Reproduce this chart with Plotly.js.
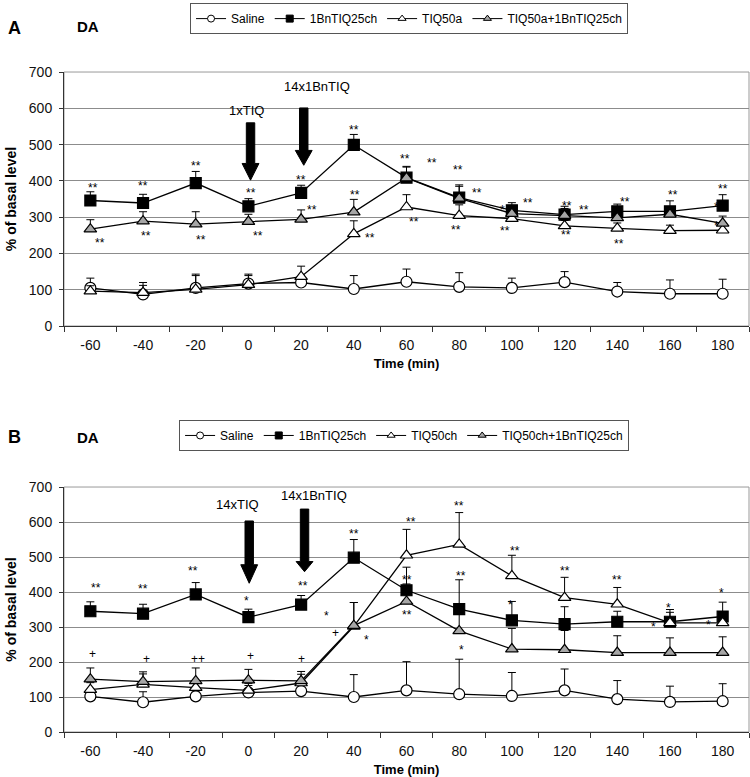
<!DOCTYPE html>
<html>
<head>
<meta charset="utf-8">
<script src="https://cdn.plot.ly/plotly-3.0.1.min.js"></script>
<style>html,body{margin:0;padding:0;background:#fff;}#chart{width:750px;height:777px;}</style>
</head>
<body>
<div id="chart"></div>
<script>
// ---------- data ----------
const times = [-60, -40, -20, 0, 20, 40, 60, 80, 100, 120, 140, 160, 180];
const tickText = ["-60", "-40", "-20", "0", "20", "40", "60", "80", "100", "120", "140", "160", "180"];

// Panel A
const namesA = ["Saline", "1BnTIQ25ch", "TIQ50a", "TIQ50a+1BnTIQ25ch"];
const salineA = [105, 87, 105, 117, 120, 102, 122, 108, 105, 121, 95, 89, 89];
const salineAErr = [27, 33, 38, 26, 10, 37, 35, 39, 27, 29, 25, 38, 40];
const bnA = [346, 339, 394, 330, 367, 499, 409, 354, 319, 307, 316, 316, 332];
const bnAErr = [24, 24, 32, 21, 21, 29, 31, 35, 21, 23, 20, 29, 30];
const tiqA = [96, 92, 101, 114, 136, 254, 328, 304, 296, 276, 269, 263, 264];
const tiqAErr = [15, 20, 38, 25, 29, 36, 34, 30, 15, 15, 15, 15, 15];
const comboA = [267, 289, 281, 288, 294, 314, 408, 352, 310, 304, 298, 308, 283];
const comboAErr = [26, 26, 34, 20, 26, 35, 30, 33, 20, 20, 20, 20, 20];

// Panel B
const namesB = ["Saline", "1BnTIQ25ch", "TIQ50ch", "TIQ50ch+1BnTIQ25ch"];
const salineB = [102, 85, 102, 113, 117, 100, 119, 108, 103, 119, 94, 86, 88];
const salineBErr = [10, 30, 15, 20, 15, 64, 82, 100, 67, 61, 53, 45, 50];
const bnB = [345, 338, 393, 328, 364, 498, 405, 351, 319, 308, 315, 315, 330];
const bnBErr = [27, 27, 34, 23, 26, 52, 66, 84, 54, 50, 30, 35, 41];
const tiqB = [121, 136, 127, 119, 140, 302, 505, 536, 446, 384, 365, 312, 312];
const tiqBErr = [20, 30, 20, 20, 25, 68, 74, 91, 59, 58, 48, 30, 30];
const comboB = [151, 144, 146, 148, 146, 304, 373, 289, 237, 235, 227, 227, 227];
const comboBErr = [32, 28, 37, 31, 27, 66, 50, 70, 59, 55, 48, 42, 45];

// Significance marks [text, time, value]
const sigA = [
  ["**",-59,388],["**",-40,393],["**",-20,448],["**",1,374],["**",20,411],["**",40,549],
  ["**",-56.5,237],["**",-39,255],["**",-18,246],["**",3.6,255],["**",24,327],["**",40.3,370],["**",46,250],
  ["**",59.4,468],["**",69.6,457],["**",79.5,437],["**",86.7,374],["**",62.7,296],["**",78.7,273],
  ["**",97.2,269],["**",106,347],["*",96.5,328],["**",121,339],["**",127.5,327],["**",120.7,260],
  ["**",142.8,351],["**",140.5,235],["**",161,370],["**",180,385],["*",177.6,336],["*",177.5,283]
];
const sigB = [
  ["**",-58,420],["**",-40,418],["**",-21,468],["*",-0.7,382],["**",20.6,427],["**",40,573],
  ["*",29.6,341],["+",33,284],["*",45,272],["+",-59.3,222],["+",-38.7,208],["++",-19,208],["+",0.7,218],["+",20,208],
  ["**",61.6,608],["**",60,444],["**",60,344],["**",79.8,654],["**",80.5,454],["*",81,244],["**",101,525],
  ["*",99.6,371],["**",120,468],["**",140,444],["*",159.6,363],["*",153.6,310],["*",174.7,315],["*",179.5,406]
];

// Treatment arrows: label, time, top value, head start value, tip value, label position
const eventsA = [
  {label: "1xTIQ", x: 0.8, top: 560, head: 448, tip: 402, lx: -0.7, ly: 594},
  {label: "14x1BnTIQ", x: 21, top: 601, head: 484, tip: 443, lx: 26, ly: 660}
];
const eventsB = [
  {label: "14xTIQ", x: 0.3, top: 603, head: 478, tip: 425, lx: -4, ly: 650},
  {label: "14x1BnTIQ", x: 21.3, top: 637, head: 487, tip: 458, lx: 25, ly: 675}
];

// ---------- build ----------
const FONT = 'Arial, "Liberation Sans", sans-serif';
const zeros = times.map(() => 0);
const styles = [
  {symbol: "circle", size: 11, fill: "#ffffff"},
  {symbol: "square", size: 11, fill: "#000000"},
  {symbol: "triangle-up", size: 11, fill: "#ffffff"},
  {symbol: "triangle-up", size: 11, fill: "#a6a6a6"}
];

function mk(name, y, err, st, xa, ya, leg) {
  return {
    type: "scatter", mode: "lines+markers", x: times, y: y, name: name,
    xaxis: xa, yaxis: ya, legend: leg, showlegend: false,
    line: {color: "#000", width: 1.3},
    marker: {symbol: st.symbol, size: st.size, color: st.fill, line: {color: "#000", width: 1.2}},
    error_y: {type: "data", symmetric: false, array: err, arrayminus: zeros, color: "#000", thickness: 1, width: 4},
    hoverinfo: "x+y+name"
  };
}
// small legend keys (no data drawn)
function key(name, st, xa, ya, leg) {
  return {
    type: "scatter", mode: "lines+markers", x: [null], y: [null], name: name,
    xaxis: xa, yaxis: ya, legend: leg, showlegend: true, hoverinfo: "skip",
    line: {color: "#000", width: 1},
    marker: {symbol: st.symbol, size: 7, color: st.fill, line: {color: "#000", width: 1}}
  };
}

const seriesA = [[salineA, salineAErr], [bnA, bnAErr], [tiqA, tiqAErr], [comboA, comboAErr]];
const seriesB = [[salineB, salineBErr], [bnB, bnBErr], [tiqB, tiqBErr], [comboB, comboBErr]];
const traces = [];
seriesA.forEach((s, i) => traces.push(mk(namesA[i], s[0], s[1], styles[i], "x", "y", "legend")));
seriesB.forEach((s, i) => traces.push(mk(namesB[i], s[0], s[1], styles[i], "x2", "y2", "legend2")));
namesA.forEach((n, i) => traces.push(key(n, styles[i], "x", "y", "legend")));
namesB.forEach((n, i) => traces.push(key(n, styles[i], "x2", "y2", "legend2")));

const bounds = [];
for (let i = 0; i <= times.length; i++) bounds.push(times[0] - 10 + 20 * i);

function xAxis(anchor) {
  return {
    anchor: anchor, domain: [0, 1], range: [-70, 190],
    tickmode: "array", tickvals: times, ticktext: tickText, ticks: "",
    tickfont: {size: 14, color: "#111"}, ticklabelstandoff: 6,
    minor: {tickmode: "array", tickvals: bounds, ticks: "outside", ticklen: 5, tickcolor: "#333", showgrid: false},
    showgrid: false, zeroline: false, showline: true, linecolor: "#333", linewidth: 1,
    title: {text: "<b>Time (min)</b>", font: {size: 13, color: "#000"}, standoff: 7},
    automargin: false, fixedrange: true
  };
}
function yAxis(anchor, dom) {
  return {
    anchor: anchor, domain: dom, range: [0, 700], dtick: 100, tick0: 0,
    ticks: "outside", ticklen: 4, tickcolor: "#333", tickfont: {size: 14, color: "#111"}, ticklabelstandoff: 4,
    showgrid: true, gridcolor: "#8c8c8c", gridwidth: 1,
    zeroline: false, showline: true, linecolor: "#333", linewidth: 1,
    title: {text: "<b>% of basal level</b>", font: {size: 14, color: "#000"}, standoff: 8},
    automargin: false, fixedrange: true
  };
}

const annotations = [];
function addSig(list, xr, yr) {
  list.forEach(s => {
    annotations.push({
      xref: xr, yref: yr, x: s[1], y: s[2], text: s[0], showarrow: false,
      font: {size: 12, color: "#000", family: FONT},
      yshift: s[0].indexOf("*") >= 0 ? -3 : 0
    });
  });
}
addSig(sigA, "x", "y");
addSig(sigB, "x2", "y2");

const shapes = [];
function addEvents(list, xr, yr) {
  list.forEach(e => {
    const sh = 1.6, hh = 3.2;
    const p = "M" + (e.x - sh) + "," + e.top + " L" + (e.x + sh) + "," + e.top +
      " L" + (e.x + sh) + "," + e.head + " L" + (e.x + hh) + "," + e.head +
      " L" + e.x + "," + e.tip + " L" + (e.x - hh) + "," + e.head +
      " L" + (e.x - sh) + "," + e.head + " Z";
    shapes.push({type: "path", xref: xr, yref: yr, path: p, fillcolor: "#000", line: {color: "#000", width: 1}, layer: "above"});
    annotations.push({xref: xr, yref: yr, x: e.lx, y: e.ly, text: e.label, showarrow: false,
      font: {size: 13, color: "#000", family: FONT}});
  });
}
addEvents(eventsA, "x", "y");
addEvents(eventsB, "x2", "y2");

// plot-area frames (top/right edges)
shapes.push({type: "rect", xref: "x domain", yref: "y domain", x0: 0, x1: 1, y0: 0, y1: 1, line: {color: "#999", width: 1}, layer: "below"});
shapes.push({type: "rect", xref: "x2 domain", yref: "y2 domain", x0: 0, x1: 1, y0: 0, y1: 1, line: {color: "#999", width: 1}, layer: "below"});

// panel letters
annotations.push({xref: "paper", yref: "paper", x: -0.084, y: 0.9794, xanchor: "left", text: "<b>A</b>", showarrow: false, font: {size: 18, family: FONT, color: "#000"}});
annotations.push({xref: "paper", yref: "paper", x: 0.016, y: 0.9794, xanchor: "left", text: "<b>DA</b>", showarrow: false, font: {size: 15, family: FONT, color: "#000"}});
annotations.push({xref: "paper", yref: "paper", x: -0.084, y: 0.4376, xanchor: "left", text: "<b>B</b>", showarrow: false, font: {size: 18, family: FONT, color: "#000"}});
annotations.push({xref: "paper", yref: "paper", x: 0.016, y: 0.4363, xanchor: "left", text: "<b>DA</b>", showarrow: false, font: {size: 15, family: FONT, color: "#000"}});

const legendBase = {
  orientation: "h", xanchor: "left", yanchor: "top",
  bgcolor: "#fff", bordercolor: "#555", borderwidth: 1,
  font: {size: 12, family: FONT, color: "#000"}, itemsizing: "trace", traceorder: "normal"
};

const layout = {
  width: 750, height: 777,
  margin: {l: 64, r: 1, t: 0, b: 0},
  paper_bgcolor: "#fff", plot_bgcolor: "#fff",
  font: {family: FONT, color: "#000"},
  showlegend: true,
  legend: Object.assign({}, legendBase, {x: 0.184, y: 0.996}),
  legend2: Object.assign({}, legendBase, {x: 0.168, y: 0.4595}),
  xaxis: xAxis("y"),
  yaxis: yAxis("x", [0.5804, 0.9073]),
  xaxis2: xAxis("y2"),
  yaxis2: yAxis("x2", [0.0579, 0.3732]),
  annotations: annotations,
  shapes: shapes
};

Plotly.newPlot("chart", traces, layout, {displayModeBar: false, staticPlot: false});
</script>
</body>
</html>
